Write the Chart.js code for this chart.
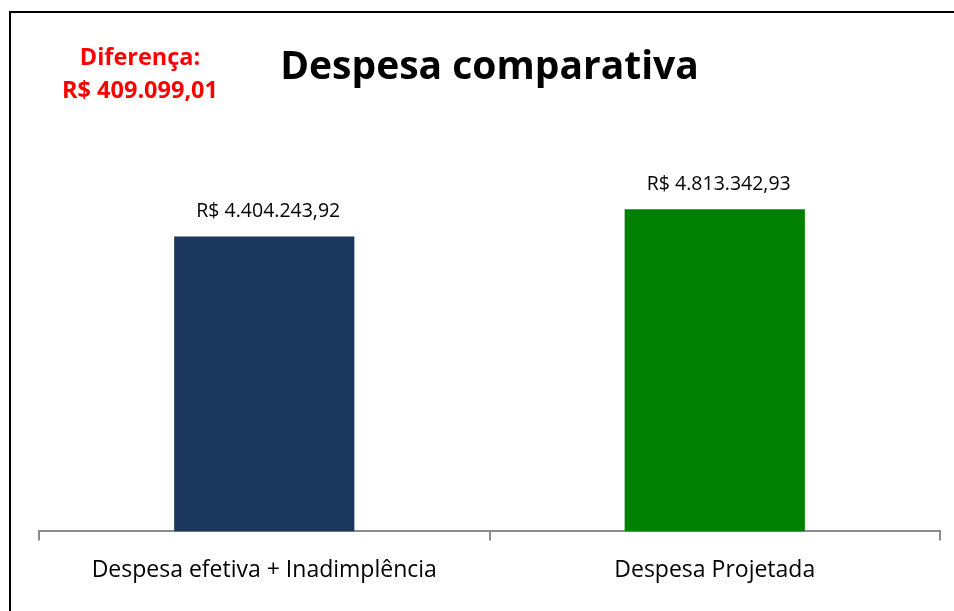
<!DOCTYPE html>
<html>
<head>
<meta charset="utf-8">
<script src="https://cdn.jsdelivr.net/npm/chart.js@4"></script>
<style>
  html, body { margin: 0; padding: 0; background: #fff; overflow: hidden; }
  #wrap { position: relative; width: 954px; height: 611px; }
  #frame { position: absolute; left: 9px; top: 11px; width: 1000px; height: 700px; border: 2px solid #000; box-sizing: border-box; }
  #diff { position: absolute; left: 40px; top: 40px; width: 200px; text-align: center; color: #ff0000;
          font-family: "Open Sans", sans-serif; font-weight: bold; font-size: 23.5px; line-height: 33px; }
  canvas { position: absolute; left: 0; top: 0; }
</style>
</head>
<body>
<div id="wrap">
  <div id="frame"></div>
  <canvas id="chart" width="954" height="611"></canvas>
  <div id="diff"></div>
</div>
<script>
/* data */
const categories = ["Despesa efetiva + Inadimplência", "Despesa Projetada"];
const values = [4404243.92, 4813342.93];
const barColors = ["#1b375e", "#008000"];

function brl(n) {
  const parts = n.toFixed(2).split(".");
  const inteiro = parts[0].replace(/\B(?=(\d{3})+(?!\d))/g, ".");
  return "R$ " + inteiro + "," + parts[1];
}

document.querySelector("#diff").innerHTML =
  "Diferença:<br>" + brl(values[1] - values[0]);

/* value labels above the bars */
const valueLabels = {
  id: "valueLabels",
  afterDatasetsDraw(chart) {
    const ctx = chart.ctx;
    const meta = chart.getDatasetMeta(0);
    ctx.save();
    ctx.font = "19.5px 'Open Sans', sans-serif";
    ctx.fillStyle = "#000";
    ctx.textAlign = "center";
    ctx.textBaseline = "middle";
    meta.data.forEach((bar, i) => {
      ctx.fillText(brl(values[i]), bar.x + 4, bar.y - 25);
    });
    ctx.restore();
  }
};

const chart = new Chart(document.querySelector("#chart"), {
  type: "bar",
  data: {
    labels: categories,
    datasets: [
      {
        data: values,
        backgroundColor: barColors,
        barPercentage: 0.4,
        categoryPercentage: 1
      }
    ]
  },
  options: {
    responsive: false,
    animation: false,
    layout: {
      padding: { left: 39, right: 14, top: 0, bottom: 11 }
    },
    plugins: {
      legend: { display: false },
      tooltip: { enabled: false },
      title: {
        display: true,
        text: "Despesa comparativa",
        color: "#000",
        font: { family: "'Open Sans', sans-serif", size: 39, weight: "bold", lineHeight: 1.2 },
        padding: { top: 44, bottom: 39 }
      }
    },
    scales: {
      x: {
        grid: { offset: true, drawOnChartArea: false, drawTicks: true, tickLength: 9, color: "#8c8c8c", lineWidth: 2 },
        border: { color: "#8c8c8c", width: 2 },
        ticks: { color: "#000", padding: 16, font: { family: "'Open Sans', sans-serif", size: 23 } }
      },
      y: {
        display: false,
        min: 0,
        max: 6000000
      }
    }
  },
  plugins: [valueLabels]
});
</script>
</body>
</html>
